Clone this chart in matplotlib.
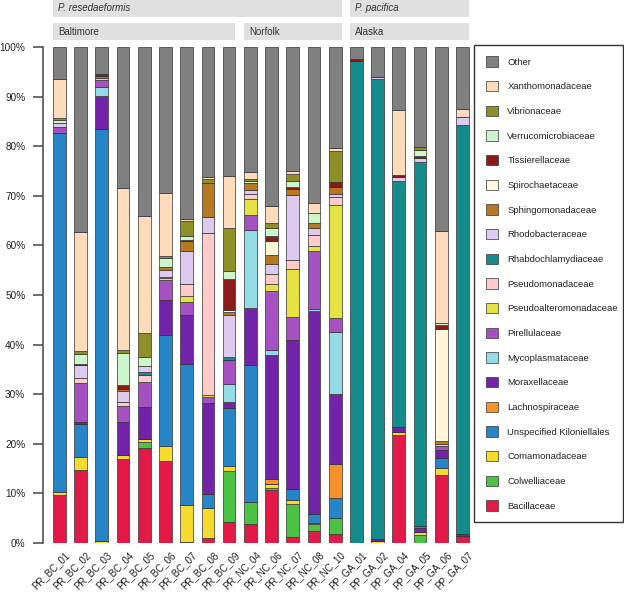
import matplotlib
matplotlib.use('Agg')
import matplotlib.pyplot as plt
import matplotlib.transforms as mtransforms
from matplotlib.patches import Rectangle
import numpy as np

plt.rcParams['font.family'] = ['Liberation Sans', 'DejaVu Sans']

samples = ['PR_BC_01', 'PR_BC_02', 'PR_BC_03', 'PR_BC_04', 'PR_BC_05', 'PR_BC_06',
           'PR_BC_07', 'PR_BC_08', 'PR_BC_09', 'PR_NC_04', 'PR_NC_06', 'PR_NC_07',
           'PR_NC_08', 'PR_NC_10', 'PP_GA_01', 'PP_GA_02', 'PP_GA_04', 'PP_GA_05',
           'PP_GA_06', 'PP_GA_07']

# facet groups (first sample, last sample, label)
sites = [(0, 8, 'Baltimore'), (9, 13, 'Norfolk'), (14, 19, 'Alaska')]
species = [(0, 13, 'P. resedaeformis'), (14, 19, 'P. pacifica')]

# relative abundance (%) per family, stacked bottom -> top
bacillaceae = [9.7, 14.6, 0, 16.8, 19.1, 16.4, 0.2, 1.0, 4.1, 3.8, 10.6, 1.2, 2.4, 1.7, 0, 0, 21.7, 0, 13.6, 1.3]
colwelliaceae = [0, 0, 0, 0, 1.2, 0, 0, 0, 10.3, 4.5, 0.5, 6.7, 1.4, 3.2, 0, 0, 0, 1.5, 0, 0]
comamonadaceae = [0.6, 2.7, 0.4, 1.0, 0.6, 3.1, 7.5, 6.1, 1.0, 0, 0.8, 0.8, 0.2, 0, 0, 0.4, 0.7, 0.7, 1.4, 0]
kiloniellales = [72.4, 6.7, 83.2, 0, 0, 22.5, 28.4, 2.7, 11.8, 27.6, 0, 2.2, 1.8, 4.2, 0, 0, 0, 0, 2.0, 0]
lachnospiraceae = [0, 0, 0, 0, 0, 0, 0, 0, 0, 0, 0.9, 0, 0, 6.7, 0, 0, 0, 0, 0, 0]
moraxellaceae = [0, 0.3, 6.5, 6.6, 6.5, 7.0, 9.8, 18.3, 1.2, 11.4, 25.1, 30.0, 41.0, 14.3, 0, 0.3, 1.0, 0.7, 1.8, 0.4]
mycoplasmataceae = [0, 0, 1.8, 0, 0, 0, 0, 0, 3.7, 15.8, 0.9, 0, 0.4, 12.4, 0, 0, 0, 0, 0, 0]
pirellulaceae = [1.3, 7.9, 1.5, 3.2, 5.0, 4.1, 2.7, 1.3, 4.7, 3.1, 12.1, 4.6, 11.6, 2.8, 0, 0, 0, 0.5, 0.7, 0]
pseudoalteromonadaceae = [0, 0, 0, 0, 0, 0.3, 1.1, 0.4, 0, 3.1, 1.3, 9.7, 1.1, 22.9, 0, 0, 0, 0, 0, 0]
pseudomonadaceae = [0, 1.0, 0, 0.8, 1.5, 0.3, 2.6, 32.7, 0, 1.1, 2.0, 1.9, 2.2, 1.6, 0, 0, 0, 0, 0, 0]
rhabdochlamydiaceae = [0, 0, 0, 0, 0.5, 0, 0, 0, 0.6, 0, 0, 0, 0, 0, 97.3, 92.9, 49.6, 73.4, 0, 82.6]
rhodobacteraceae = [0.8, 2.6, 0.5, 2.3, 1.3, 1.4, 6.6, 3.2, 8.5, 0.8, 2.1, 13.0, 1.4, 0.6, 0, 0.4, 0.9, 0.9, 0.5, 1.7]
sphingomonadaceae = [0, 0, 0.3, 0.4, 0, 0.5, 2.0, 6.9, 0.6, 1.4, 1.7, 1.3, 1.0, 1.4, 0, 0, 0, 0, 0.5, 0]
spirochaetaceae = [0, 0, 0, 0, 0, 0, 0, 0, 0.4, 0, 2.8, 0, 0, 0, 0, 0, 0, 0, 22.6, 0]
tissierellaceae = [0, 0.3, 0.4, 0.8, 0, 0, 0.3, 0, 6.4, 0, 1.1, 0.5, 0, 1.0, 0.3, 0, 0.4, 0.3, 0.9, 0]
verrucomicrobiaceae = [0.6, 1.9, 0, 6.3, 1.7, 1.9, 0.8, 0, 1.6, 0.5, 1.6, 1.2, 2.0, 0, 0, 0, 0, 1.3, 0.3, 0]
vibrionaceae = [0.3, 0.7, 0, 0.7, 5.0, 0.4, 3.0, 0.8, 8.7, 0.3, 1.0, 1.4, 0, 6.3, 0, 0, 0, 0.6, 0, 0]
xanthomonadaceae = [7.9, 24.0, 0, 32.7, 23.5, 12.7, 0.4, 0.5, 10.5, 1.4, 3.5, 0.6, 2.0, 0.6, 0, 0, 13.1, 0, 18.6, 1.6]
other = [6.4, 37.3, 5.4, 28.4, 34.1, 29.4, 34.6, 26.1, 25.9, 25.2, 32.0, 24.9, 31.5, 20.3, 2.4, 6.0, 12.6, 20.1, 37.1, 12.4]

families = [
    ('Bacillaceae', bacillaceae, '#e31a48'),
    ('Colwelliaceae', colwelliaceae, '#4cc244'),
    ('Comamonadaceae', comamonadaceae, '#f6db2f'),
    ('Unspecified Kiloniellales', kiloniellales, '#2585c6'),
    ('Lachnospiraceae', lachnospiraceae, '#f7922b'),
    ('Moraxellaceae', moraxellaceae, '#7322aa'),
    ('Mycoplasmataceae', mycoplasmataceae, '#94dbe6'),
    ('Pirellulaceae', pirellulaceae, '#a651c1'),
    ('Pseudoalteromonadaceae', pseudoalteromonadaceae, '#e6e243'),
    ('Pseudomonadaceae', pseudomonadaceae, '#ffcaca'),
    ('Rhabdochlamydiaceae', rhabdochlamydiaceae, '#168b8b'),
    ('Rhodobacteraceae', rhodobacteraceae, '#dccbef'),
    ('Sphingomonadaceae', sphingomonadaceae, '#b87820'),
    ('Spirochaetaceae', spirochaetaceae, '#fff7d9'),
    ('Tissierellaceae', tissierellaceae, '#8b1a1a'),
    ('Verrucomicrobiaceae', verrucomicrobiaceae, '#ccf5cc'),
    ('Vibrionaceae', vibrionaceae, '#8f8f27'),
    ('Xanthomonadaceae', xanthomonadaceae, '#fddbbb'),
    ('Other', other, '#808080'),
]

fig = plt.figure(figsize=(6.24, 5.92), dpi=100)
ax = fig.add_axes([0.0684, 0.0833, 0.6846, 0.8368])

x = np.arange(len(samples))
bottom = np.zeros(len(samples))
handles = []
for name, vals, col in families:
    vals = np.array(vals)
    b = ax.bar(x, vals, width=0.6, bottom=bottom, color=col,
               edgecolor='#333333', linewidth=0.5, label=name)
    handles.append(b)
    bottom += vals

ax.set_xlim(-0.79, 19.35)
ax.set_ylim(0, 100)
ax.set_yticks(range(0, 101, 10))
ax.set_yticklabels([f'{v}%' for v in range(0, 101, 10)], fontsize=7.2, color='#222222')
ax.tick_params(axis='y', length=7, width=1.1, color='#444444', pad=5.5)
ax.spines['left'].set_color('#444444')
ax.spines['left'].set_linewidth(1.1)
for s in ['top', 'right', 'bottom']:
    ax.spines[s].set_visible(False)

ax.set_xticks(x)
ax.set_xticklabels(samples, rotation=45, ha='right', va='top',
                   rotation_mode='anchor', fontsize=7, color='#222222')
ax.tick_params(axis='x', length=0, pad=5)
shift = mtransforms.ScaledTranslation(5 / 100, 0, fig.dpi_scale_trans)
for lab in ax.get_xticklabels():
    lab.set_transform(lab.get_transform() + shift)

# facet strips
trans = mtransforms.blended_transform_factory(ax.transData, ax.transAxes)
strip_col = '#e0e0e0'
for i0, i1, lab in sites:
    ax.add_patch(Rectangle((i0 - 0.3, 1.0147), i1 - i0 + 0.6, 0.0337, transform=trans,
                           facecolor=strip_col, edgecolor='none', clip_on=False))
    ax.text(i0 - 0.05, 1.0315, lab, transform=trans, fontsize=7, color='#333333',
            va='center', ha='left')
for i0, i1, lab in species:
    ax.add_patch(Rectangle((i0 - 0.3, 1.0618), i1 - i0 + 0.6, 0.0337, transform=trans,
                           facecolor=strip_col, edgecolor='none', clip_on=False))
    ax.text(i0 - 0.05, 1.0786, lab, transform=trans, fontsize=7, color='#333333',
            va='center', ha='left', style='italic')

leg = fig.legend(handles[::-1], [f[0] for f in families][::-1],
                 loc='upper left',
                 bbox_to_anchor=(474.3 / 624, 1 - 45 / 592 - 0.01, 149 / 624, 0.01),
                 mode='expand', borderaxespad=0, fontsize=6.8, frameon=True,
                 fancybox=False, edgecolor='black', handlelength=1.35, handleheight=1.3,
                 labelspacing=1.52, handletextpad=0.95, borderpad=1.2)
leg.get_frame().set_linewidth(1.0)
for t in leg.get_texts():
    t.set_color('#222222')

fig.savefig('out.png', dpi=100)
